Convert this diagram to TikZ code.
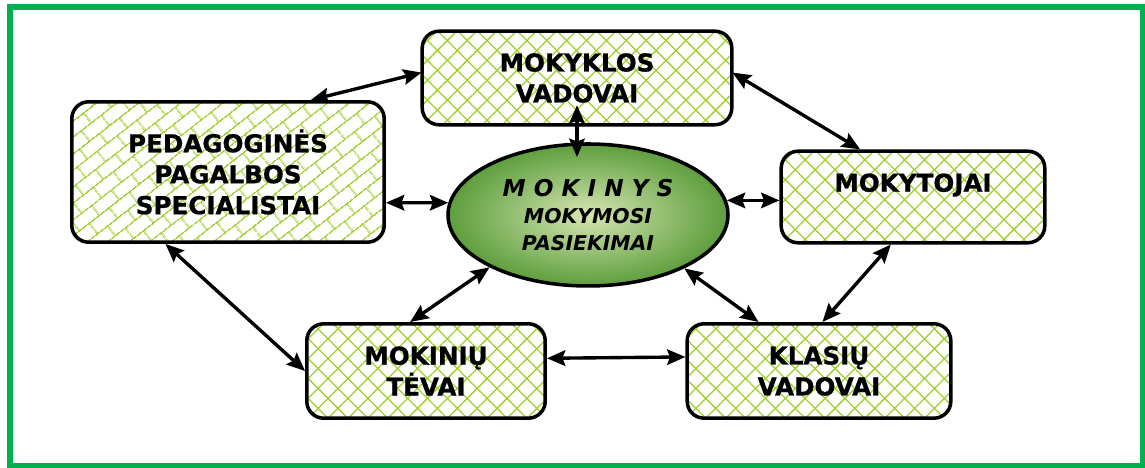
\documentclass[tikz,border=0pt]{standalone}
\usepackage{fontspec}
\setmainfont{DejaVu Sans}[BoldFeatures={FakeBold=0.8}]
\usetikzlibrary{arrows.meta,patterns.meta,shapes.geometric}

\definecolor{framegreen}{RGB}{0,176,80}
\definecolor{hatchgreen}{RGB}{160,206,45}
\definecolor{glowin}{RGB}{214,230,178}
\definecolor{glowmid}{RGB}{84,152,52}
\definecolor{glowout}{RGB}{28,98,18}

\pgfdeclareradialshading{mokglow}{\pgfpoint{0bp}{0bp}}{color(0bp)=(glowin); color(12bp)=(glowmid!45!glowin); color(27bp)=(glowmid); color(42bp)=(glowout!70!glowmid); color(50bp)=(glowout)}

% brick hatching for the left box
\tikzdeclarepattern{
  name=diagbricks,
  type=uncolored,
  bottom left={(0pt,0pt)},
  top right={(18pt,18pt)},
  tile size={(18pt,18pt)},
  tile transformation={rotate=38},
  code={
    \draw[line width=0.9pt] (0pt,4.5pt) -- (18pt,4.5pt) (0pt,13.5pt) -- (18pt,13.5pt)
      (4.5pt,4.5pt) -- (4.5pt,13.5pt) (13.5pt,13.5pt) -- (13.5pt,18pt) (13.5pt,0pt) -- (13.5pt,4.5pt);
  }
}

\tikzset{
  hatch/.style={preaction={pattern={Lines[angle=45,distance=10pt,line width=0.9pt]},pattern color=hatchgreen},
    pattern={Lines[angle=-45,distance=10pt,line width=0.9pt]},pattern color=hatchgreen},
  bricks/.style={pattern=diagbricks,pattern color=hatchgreen}
}

\begin{document}
\begin{tikzpicture}[thick,
    box/.style={draw,line width=2.5pt,rounded corners=12pt,inner sep=0pt,align=center,
      font=\bfseries\fontsize{17.5}{22}\selectfont},
    centre/.style={ellipse,draw,line width=2.5pt,shading=mokglow,inner sep=0pt,align=center,
      font=\bfseries\itshape\fontsize{14.5}{19.5}\selectfont},
    arr/.style={<->,line width=2.4pt,>={Stealth[length=13pt,width=11pt,inset=2pt]}}]
                \useasboundingbox (0,0) rectangle (28.625,11.7);
                \draw[framegreen,line width=4.3pt] (0.25,0.06) rectangle (28.57,11.525);

                \node[centre,minimum width=7.0cm,minimum height=3.55cm] at (14.7,6.325) (mokinys)
                    {{\fontsize{16.5}{19.5}\selectfont M O K I N Y S}\\MOKYMOSI\\PASIEKIMAI};
                \node[box,hatch,minimum width=7.74cm,minimum height=2.34cm] at (14.425,9.75) (vadovai) {MOKYKLOS\\VADOVAI};
                \node[box,bricks,minimum width=7.81cm,minimum height=3.51cm] at (5.7,7.4) (ped) {PEDAGOGINĖS\\PAGALBOS\\SPECIALISTAI};
                \node[box,hatch,minimum width=6.59cm,minimum height=2.29cm] at (22.825,6.775) (mokytojai) {\raisebox{0.72cm}{MOKYTOJAI}};
                \node[box,hatch,minimum width=5.96cm,minimum height=2.36cm] at (10.65,2.425) (tevai) {MOKINIŲ\\TĖVAI};
                \node[box,hatch,minimum width=6.59cm,minimum height=2.36cm] at (20.475,2.425) (klasiu) {KLASIŲ\\VADOVAI};

            \path[arr] (ped.41) edge (vadovai.178);
            \path[arr] ([yshift=-0.68cm]vadovai.center) edge ([yshift=1.45cm]vadovai.center |- mokinys.center);
            \path[arr] (vadovai.2) edge (mokytojai.138);
            \path[arr] (ped.-11) edge (mokinys.175);
            \path[arr] (mokinys.6) edge (mokytojai.west |- mokinys.6);
            \path[arr] (ped.-131) edge (tevai.west);
            \path[arr] (mokinys.208) edge (tevai.108);
            \path[arr] (mokinys.-29) edge (klasiu.141);
            \path[arr] (mokytojai.245) edge (klasiu.86);
            \path[arr] (tevai.6.5) edge (klasiu.174);

            \end{tikzpicture}
\end{document}
